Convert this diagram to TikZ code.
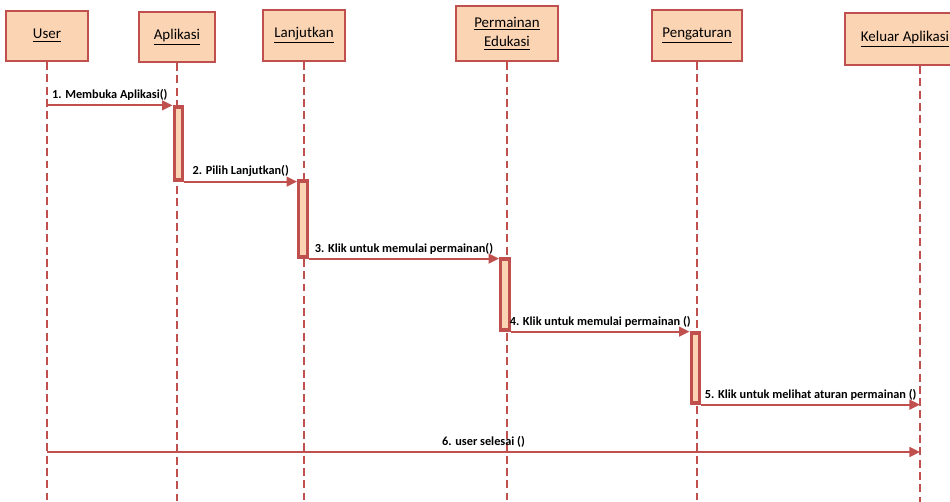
\documentclass[tikz,border=0pt]{standalone}
\usepackage{fontspec}
\setmainfont{Carlito}
\usepackage{xcolor}
\usetikzlibrary{arrows.meta}

\definecolor{boxred}{HTML}{C0504D}
\definecolor{boxfill}{HTML}{FBD4B4}

\tikzset{
    obj/.style={draw=boxred, fill=boxfill, line width=1.3pt, align=center,
        inner sep=0pt, font=\fontsize{8.5}{11}\selectfont},
    lifeline/.style={draw=boxred, line width=1pt, dash pattern=on 4.5pt off 2.5pt},
    act/.style={draw=boxred, fill=boxfill, line width=1.9pt, minimum width=0.17cm,
        inner sep=0pt},
    msg/.style={draw=boxred, line width=1.3pt, -{Triangle[length=6pt,width=5.5pt]}},
    lbl/.style={above, inner sep=2pt, font=\bfseries\fontsize{7}{8}\selectfont}
}

\begin{document}
\begin{tikzpicture}[x=0.02cm, y=-0.02cm]
    \useasboundingbox (0,0) rectangle (950,502);

    % Objects along the top
    \node[obj, minimum width=1.64cm, minimum height=1.0cm]  (user)       at (47,36)    {\underline{User}};
    \node[obj, minimum width=1.52cm, minimum height=1.0cm]  (aplikasi)   at (177,37)   {\underline{Aplikasi}};
    \node[obj, minimum width=1.64cm, minimum height=1.02cm] (lanjutkan)  at (304,35.5) {\underline{Lanjutkan}};
    \node[obj, minimum width=2.04cm, minimum height=1.1cm]  (edukasi)    at (507,33.5) {\underline{Permainan}\\\underline{Edukasi}};
    \node[obj, minimum width=1.8cm,  minimum height=1.02cm] (pengaturan) at (697,35.5) {\underline{Pengaturan}};
    \node[obj, minimum width=2.4cm,  minimum height=1.04cm] (keluar)     at (905,39)   {\underline{Keluar Aplikasi}};

    % Lifelines
    \coordinate (bottom) at (0,502);
    \coordinate (keluarline) at ([xshift=0.3cm]keluar.south);
    \foreach \obj in {user, aplikasi, lanjutkan, edukasi, pengaturan} {
        \draw[lifeline] (\obj.south) -- (\obj.south |- bottom);
    }
    \draw[lifeline] (keluarline) -- (keluarline |- bottom);

    % Activation bars
    \node[act, minimum height=1.46cm] (act1) at (178.5,143.5) {};
    \node[act, minimum height=1.52cm] (act2) at (303,219)     {};
    \node[act, minimum height=1.42cm] (act3) at (505,294.5)   {};
    \node[act, minimum height=1.4cm]  (act4) at (695.5,368)   {};

    % Messages
    \draw[msg] (user.south |- act1.north) -- node[lbl] {1. Membuka Aplikasi()} (act1.north west);
    \draw[msg] (act1.south east) -- node[lbl] {2. Pilih Lanjutkan()} (act1.south east -| act2.west);
    \draw[msg] (act2.south east) -- node[lbl] {3. Klik untuk memulai permainan()} (act2.south east -| act3.west);
    \draw[msg] (act3.south east) -- node[lbl] {4. Klik untuk memulai permainan ()} (act3.south east -| act4.west);
    \draw[msg] (act4.south east) -- node[lbl] {5. Klik untuk melihat aturan permainan ()} (act4.south east -| keluarline);
    \coordinate (done) at (0,452);
    \draw[msg] (user.south |- done) -- node[lbl] {6. user selesai ()} (keluarline |- done);
\end{tikzpicture}
\end{document}
